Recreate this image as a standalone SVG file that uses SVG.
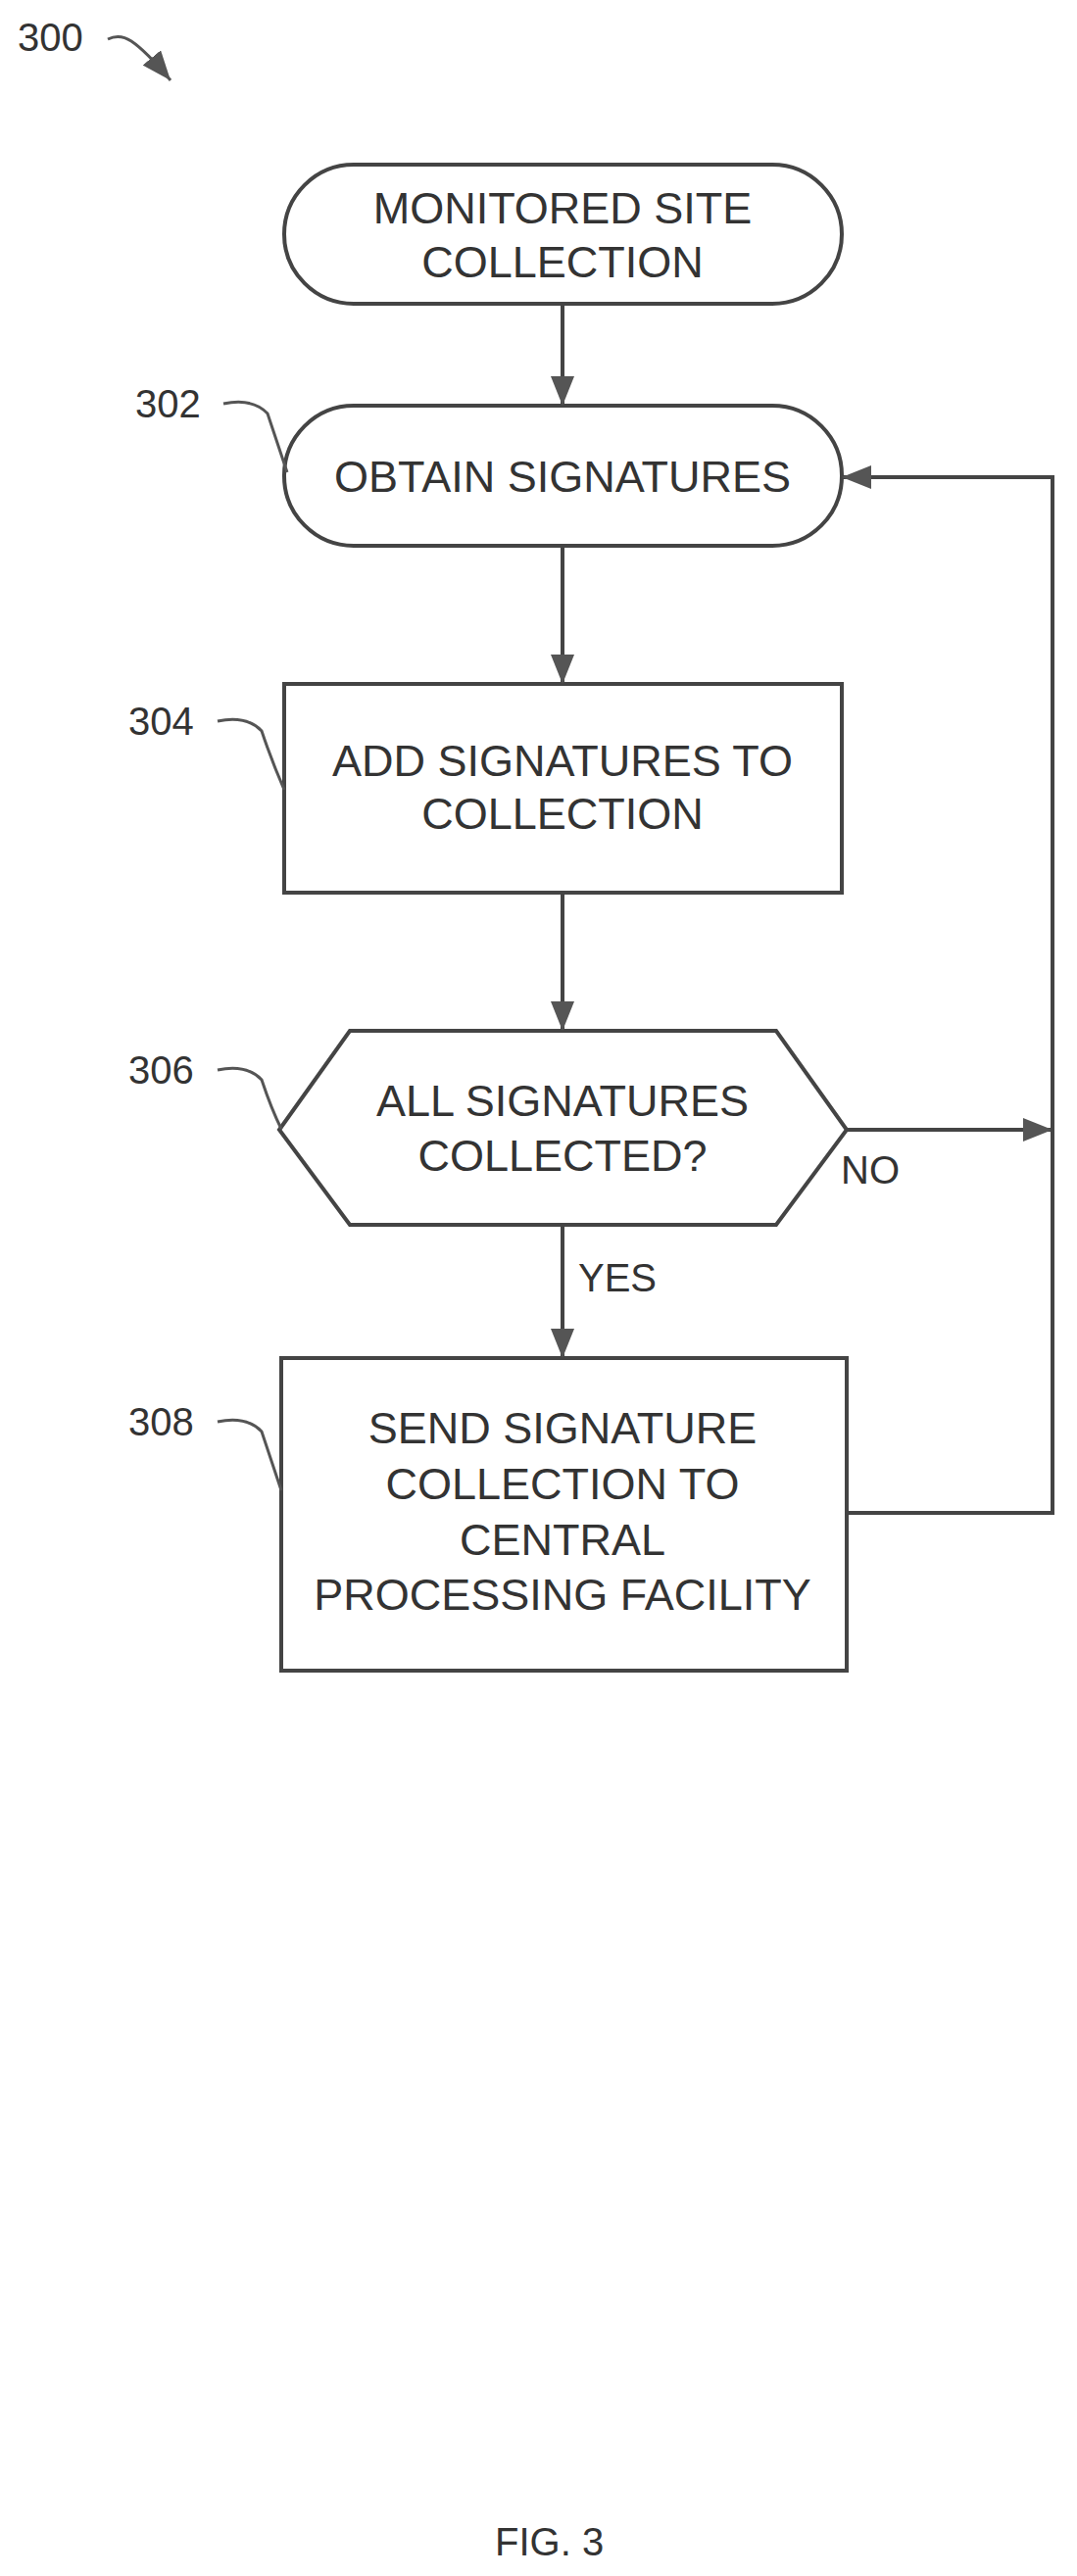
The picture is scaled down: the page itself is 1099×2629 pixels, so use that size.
<svg xmlns="http://www.w3.org/2000/svg" width="1099" height="2629" viewBox="0 0 1099 2629">
<defs>
<marker id="ah2" viewBox="0 0 10 8" refX="10" refY="4" markerWidth="30" markerHeight="24" orient="auto" markerUnits="userSpaceOnUse"><path d="M0,0 L10,4 L0,8 Z" fill="#555"/></marker>
</defs>
<style>
.s{fill:#fff;stroke:#444;stroke-width:4}
.t{font-family:"Liberation Sans",Arial,sans-serif;font-size:45px;fill:#333;text-anchor:middle}
.l{font-family:"Liberation Sans",Arial,sans-serif;font-size:40px;fill:#333}
.c{fill:none;stroke:#444;stroke-width:4}
.d{fill:none;stroke:#555;stroke-width:3}
</style>
<rect width="1099" height="2629" fill="#fff"/>
<g id="n300"><text class="l" x="18" y="52">300</text><path class="d" d="M110,40 q12,-6 24,2 q15,10 40,40" marker-end="url(#ah2)"/></g>
<g id="start"><rect class="s" x="290" y="168" width="569" height="142" rx="71"/><text class="t" x="574" y="228">MONITORED SITE</text><text class="t" x="574" y="283">COLLECTION</text></g>
<g id="n302"><rect class="s" x="290" y="414" width="569" height="143" rx="71"/><text class="t" x="574" y="502">OBTAIN SIGNATURES</text><text class="l" x="138" y="426">302</text><path class="d" d="M228,412 q30,-6 45,10 q10,30 20,60"/></g>
<g id="n304"><rect class="s" x="290" y="698" width="569" height="213"/><text class="t" x="574" y="792">ADD SIGNATURES TO</text><text class="t" x="574" y="846">COLLECTION</text><text class="l" x="131" y="750">304</text><path class="d" d="M222,736 q30,-6 45,10 q10,30 23,60"/></g>
<g id="n306"><polygon class="s" points="285,1153 357,1052 792,1052 864,1153 792,1250 357,1250"/><text class="t" x="574" y="1139">ALL SIGNATURES</text><text class="t" x="574" y="1195">COLLECTED?</text><text class="l" x="131" y="1106">306</text><path class="d" d="M222,1092 q30,-6 45,10 q10,30 20,50"/></g>
<g id="n308"><rect class="s" x="287" y="1386" width="577" height="319"/><text class="t" x="574" y="1473">SEND SIGNATURE</text><text class="t" x="574" y="1530">COLLECTION TO</text><text class="t" x="574" y="1587">CENTRAL</text><text class="t" x="574" y="1643">PROCESSING FACILITY</text><text class="l" x="131" y="1465">308</text><path class="d" d="M222,1451 q30,-6 45,10 q10,30 20,60"/></g>
<g id="connectors">
<path class="c" d="M574,310 V414" marker-end="url(#ah2)"/>
<path class="c" d="M574,557 V698" marker-end="url(#ah2)"/>
<path class="c" d="M574,911 V1052" marker-end="url(#ah2)"/>
<path class="c" d="M574,1250 V1386" marker-end="url(#ah2)"/>
<path class="c" d="M864,1153 H1074" marker-end="url(#ah2)"/>
<path class="c" d="M864,1544 H1074 V487 H859" marker-end="url(#ah2)"/>
<text class="l" x="590" y="1318">YES</text>
<text class="l" x="858" y="1208">NO</text>
</g>
<text class="l" x="505" y="2608">FIG. 3</text>
</svg>
